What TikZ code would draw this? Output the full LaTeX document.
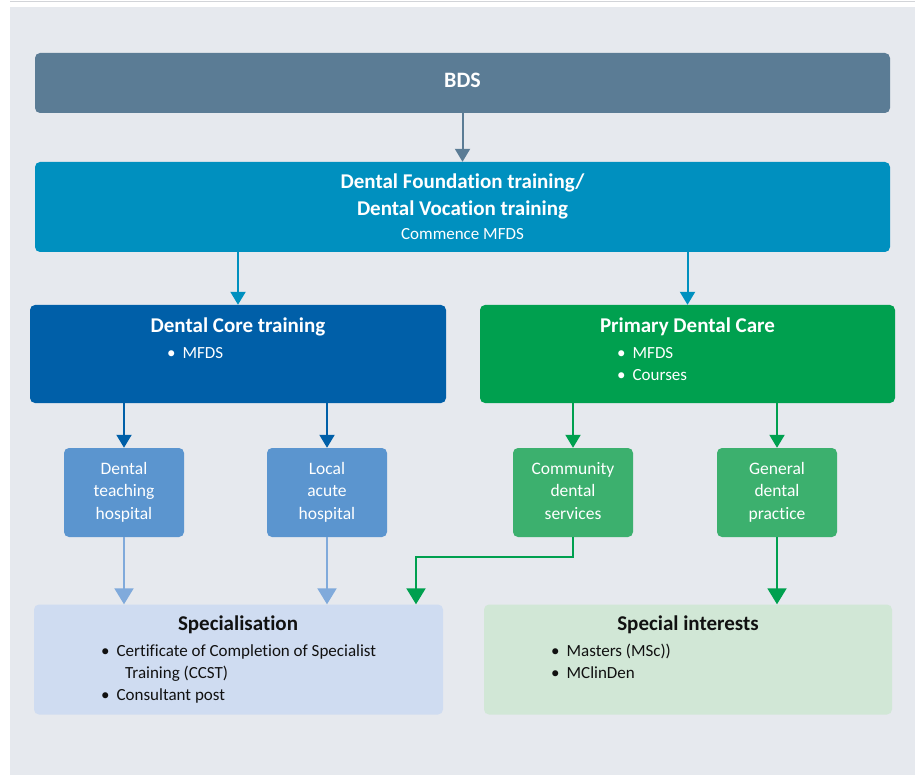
\documentclass[tikz,border=0pt]{standalone}
\usepackage{fontspec}
\setmainfont[Ligatures=NoCommon]{Carlito}
\usetikzlibrary{arrows.meta}
\definecolor{bg}{HTML}{E6E9EE}
\definecolor{bdsc}{HTML}{5B7C95}
\definecolor{dftc}{HTML}{0090BF}
\definecolor{dctc}{HTML}{005FA8}
\definecolor{pdcc}{HTML}{00A04F}
\definecolor{lbluec}{HTML}{5B95CF}
\definecolor{lgreenc}{HTML}{3CB06E}
\definecolor{arrlblue}{HTML}{80AADB}
\definecolor{specc}{HTML}{CFDCF1}
\definecolor{spintc}{HTML}{D1E7D6}
\definecolor{darktext}{HTML}{111111}
\begin{document}
\begin{tikzpicture}[x=1pt,y=-1pt,
  box/.style={rectangle, rounded corners=5pt, inner sep=0pt, draw=none},
  ttl/.style={anchor=base, font=\fontsize{21}{24}\selectfont\bfseries, text=white, inner sep=0pt},
  txt/.style={anchor=base, font=\fontsize{17}{20}\selectfont, text=white, inner sep=0pt},
  btxt/.style={anchor=base west, font=\fontsize{17}{20}\selectfont, text=white, inner sep=0pt},
  sbtxt/.style={anchor=base, font=\fontsize{17.5}{20}\selectfont, text=white, inner sep=0pt},
  arr/.style={line width=2pt, -{Triangle[width=15pt,length=13pt]}},
  bigarr/.style={line width=2pt, -{Triangle[width=19pt,length=16pt]}}
]
\useasboundingbox (0,0) rectangle (920,775);
\fill[white] (0,0) rectangle (920,775);
\fill[bg] (10,7) rectangle (915,775);
\draw[bg!80!gray, line width=0.8pt] (10,1) -- (915,1);

% main boxes
\node[box, fill=bdsc, minimum width=855, minimum height=60] (bds) at (462.5,83) {};
\node[box, fill=dftc, minimum width=855, minimum height=90] (dft) at (462.5,207) {};
\node[box, fill=dctc, minimum width=416, minimum height=98] (dct) at (238,354) {};
\node[box, fill=pdcc, minimum width=415, minimum height=98] (pdc) at (687.5,354) {};
% small boxes
\node[box, fill=lbluec, minimum width=120, minimum height=89] (dth) at (124,492.5) {};
\node[box, fill=lbluec, minimum width=120, minimum height=89] (lah) at (327,492.5) {};
\node[box, fill=lgreenc, minimum width=120, minimum height=89] (cds) at (573,492.5) {};
\node[box, fill=lgreenc, minimum width=120, minimum height=89] (gdp) at (777,492.5) {};
% bottom boxes
\node[box, fill=specc, minimum width=409, minimum height=110] (spec) at (238.5,659.5) {};
\node[box, fill=spintc, minimum width=408, minimum height=110] (spint) at (688,659.5) {};

% texts
\node[ttl, font=\fontsize{22}{24}\selectfont\bfseries] (bdsT) at (462.5,88) {BDS};
\node[ttl] (dftT1) at (462.5,189) {Dental Foundation training/};
\node[ttl] (dftT2) at (462.5,215.5) {Dental Vocation training};
\node[txt] (dftT3) at (462.5,240) {Commence MFDS};

\node[ttl] (dctT) at (238,332) {Dental Core training};
\node[btxt] (dctB1) at (167,358) {•\hspace{7pt}MFDS};

\node[ttl] (pdcT) at (687.5,332) {Primary Dental Care};
\node[btxt] (pdcB1) at (617,358) {•\hspace{7pt}MFDS};
\node[btxt] (pdcB2) at (617,380) {•\hspace{7pt}Courses};

\foreach \n/\a/\b/\c in {dth/Dental/teaching/hospital, lah/Local/acute/hospital, cds/Community/dental/services, gdp/General/dental/practice}{
  \node[sbtxt] (\n L1) at (\n.north |- 0,474) {\a};
  \node[sbtxt] (\n L2) at (\n.north |- 0,496.5) {\b};
  \node[sbtxt] (\n L3) at (\n.north |- 0,519) {\c};
}

\node[ttl, text=darktext] (specT) at (238,630) {Specialisation};
\node[btxt, text=darktext] (specB1) at (101,656) {•\hspace{7pt}Certificate of Completion of Specialist};
\node[btxt, text=darktext] (specB1b) at (125,678) {Training (CCST)};
\node[btxt, text=darktext] (specB2) at (101,700) {•\hspace{7pt}Consultant post};

\node[ttl, text=darktext] (spintT) at (688,630) {Special interests};
\node[btxt, text=darktext] (spintB1) at (551,656) {•\hspace{7pt}Masters (MSc))};
\node[btxt, text=darktext] (spintB2) at (551,678) {•\hspace{7pt}MClinDen};

% connectors
\draw[arr, bdsc] (bds.south) -- (dft.north);
\draw[arr, dftc] (dft.south -| dct.north) -- (dct.north);
\draw[arr, dftc] (dft.south -| pdc.north) -- (pdc.north);
\draw[arr, dctc] (dct.south -| dth.north) -- (dth.north);
\draw[arr, dctc] (dct.south -| lah.north) -- (lah.north);
\draw[arr, pdcc] (pdc.south -| cds.north) -- (cds.north);
\draw[arr, pdcc] (pdc.south -| gdp.north) -- (gdp.north);
\draw[bigarr, arrlblue] (dth.south) -- (spec.north -| dth.south);
\draw[bigarr, arrlblue] (lah.south) -- (spec.north -| lah.south);
\coordinate (elb) at (416,557);
\draw[bigarr, pdcc] (cds.south) |- (elb) -- (spec.north -| elb);
\draw[bigarr, pdcc] (gdp.south) -- (spint.north -| gdp.south);
\end{tikzpicture}
\end{document}
